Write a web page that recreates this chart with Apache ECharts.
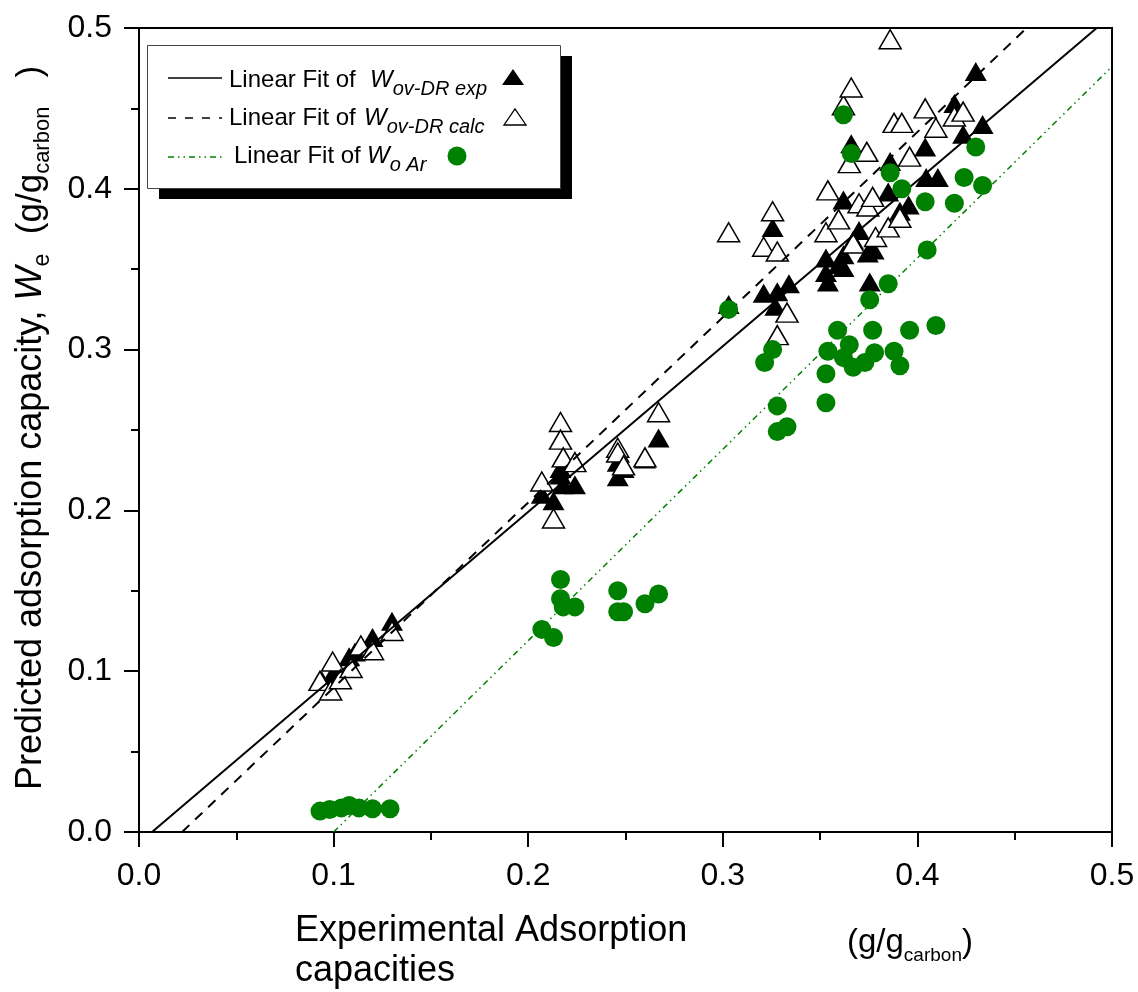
<!DOCTYPE html>
<html>
<head>
<meta charset="utf-8">
<script src="https://cdn.jsdelivr.net/npm/echarts@6/dist/echarts.min.js"></script>
<style>
  html, body { margin: 0; padding: 0; background: #fff; }
  #chart { width: 1138px; height: 992px; }
</style>
</head>
<body>
<div id="chart"></div>
<script>
// ---- data -------------------------------------------------------------
// W ov-DR exp (filled triangles)
const expX = [0.094, 0.100, 0.108, 0.111, 0.120, 0.130,
  0.207, 0.213, 0.2166, 0.2166, 0.218, 0.224, 0.246, 0.246, 0.249, 0.260, 0.267,
  0.303, 0.321, 0.3256, 0.327, 0.328, 0.334, 0.353, 0.353, 0.354, 0.3595, 0.362, 0.362,
  0.362, 0.366, 0.367, 0.370, 0.3745, 0.3755, 0.3775, 0.385, 0.386, 0.391, 0.3955,
  0.404, 0.4045, 0.4105, 0.419, 0.4235, 0.430, 0.4335];
const expY = [0.094, 0.099, 0.109, 0.112, 0.121, 0.131,
  0.210, 0.206, 0.222, 0.226, 0.216, 0.216, 0.230, 0.221, 0.226, 0.232, 0.245,
  0.328, 0.335, 0.376, 0.327, 0.336, 0.341, 0.357, 0.348, 0.342, 0.353, 0.351, 0.359,
  0.393, 0.428, 0.368, 0.374, 0.360, 0.342, 0.362, 0.398, 0.417, 0.386, 0.390,
  0.426, 0.407, 0.407, 0.453, 0.434, 0.473, 0.440];

// W ov-DR calc (open triangles)
const calcX = [0.093, 0.0985, 0.0995, 0.1035, 0.109, 0.114, 0.120, 0.130,
  0.207, 0.213, 0.2166, 0.2166, 0.218, 0.224, 0.246, 0.246, 0.249, 0.260, 0.267,
  0.303, 0.321, 0.3256, 0.328, 0.328, 0.333, 0.353, 0.354, 0.3595, 0.362, 0.365, 0.366,
  0.367, 0.370, 0.374, 0.3745, 0.377, 0.3785, 0.385, 0.386, 0.388, 0.391, 0.392, 0.396,
  0.404, 0.4095, 0.419, 0.4235];
const calcY = [0.094, 0.088, 0.106, 0.095, 0.102, 0.116, 0.113, 0.125,
  0.218, 0.195, 0.255, 0.244, 0.233, 0.230, 0.239, 0.236, 0.228, 0.233, 0.261,
  0.373, 0.364, 0.386, 0.361, 0.309, 0.323, 0.373, 0.399, 0.381, 0.452, 0.416, 0.463,
  0.366, 0.391, 0.423, 0.389, 0.395, 0.370, 0.376, 0.493, 0.441, 0.382, 0.441, 0.420,
  0.450, 0.438, 0.445, 0.448];

// W o Ar (green circles)
const arX = [0.093, 0.098, 0.104, 0.108, 0.113, 0.120, 0.129,
  0.207, 0.213, 0.2166, 0.2166, 0.218, 0.224, 0.246, 0.246, 0.249, 0.260, 0.267,
  0.303, 0.3215, 0.3256, 0.328, 0.328, 0.333, 0.353, 0.353, 0.354, 0.359, 0.362, 0.365,
  0.367, 0.373, 0.378, 0.377, 0.3755, 0.385, 0.388, 0.391, 0.396, 0.4095, 0.405,
  0.362, 0.366, 0.386, 0.392, 0.430, 0.424, 0.4335, 0.404, 0.419];
const arY = [0.013, 0.014, 0.015, 0.0165, 0.015, 0.0145, 0.0145,
  0.126, 0.121, 0.157, 0.145, 0.140, 0.140, 0.150, 0.137, 0.137, 0.142, 0.148,
  0.325, 0.292, 0.300, 0.265, 0.249, 0.252, 0.267, 0.285, 0.299, 0.312, 0.295, 0.303,
  0.289, 0.292, 0.298, 0.312, 0.331, 0.341, 0.299, 0.290, 0.312, 0.315, 0.362,
  0.446, 0.422, 0.410, 0.400, 0.426, 0.407, 0.402, 0.392, 0.391];

// linear fits: [slope, intercept]
const fitExp = [1.03, -0.0069];
const fitCalc = [1.152, -0.0255];
const fitAr = [1.19, -0.119];

const axisTicks = [0.0, 0.1, 0.2, 0.3, 0.4, 0.5];
const legendLabels = ['Linear Fit of', 'Linear Fit of', 'Linear Fit of'];
const legendSubs = ['ov-DR exp', 'ov-DR calc', 'o Ar'];

// ---- helpers ----------------------------------------------------------
const FONT = '"Liberation Sans", Arial, Helvetica, sans-serif';
const GREEN = '#008000';
const zip = (xs, ys) => xs.map((x, i) => [x, ys[i]]);

const axisMin = axisTicks[0];
const axisMax = axisTicks[axisTicks.length - 1];

// segment of y = a*x + b clipped to the plotting box
function fitSegment(fit) {
  const [a, b] = fit;
  const x0 = Math.max(axisMin, (axisMin - b) / a);
  const x1 = Math.min(axisMax, (axisMax - b) / a);
  return [[x0, a * x0 + b], [x1, a * x1 + b]];
}

const mctx = document.createElement('canvas').getContext('2d');
const fontStr = (size, italic) => (italic ? 'italic ' : '') + size + 'px ' + FONT;
function textWidth(t, size, italic) {
  mctx.font = fontStr(size, italic);
  return mctx.measureText(t).width;
}
// distance from the 'middle' line down to the alphabetic baseline
function baselineShift(size, italic) {
  mctx.font = fontStr(size, italic);
  mctx.textBaseline = 'alphabetic';
  const a = mctx.measureText('H').actualBoundingBoxAscent;
  mctx.textBaseline = 'middle';
  const b = mctx.measureText('H').actualBoundingBoxAscent;
  mctx.textBaseline = 'alphabetic';
  return a - b;
}
// a run of text pieces sharing a baseline; each piece: [text, size, italic, dy]
function textRun(runs, x, y, rotation, color) {
  let cx = 0;
  const children = runs.map(([t, size, italic, dy]) => {
    const el = {
      type: 'text', x: cx, y: (dy || 0) - baselineShift(size, italic), silent: true, z: 100,
      style: { text: t, font: fontStr(size, italic), fill: color || '#000', align: 'left', verticalAlign: 'middle' }
    };
    cx += textWidth(t, size, italic);
    return el;
  });
  return { type: 'group', x, y, rotation: rotation || 0, children, z: 100 };
}

// ---- legend -------------------------------------------------------------
const legendRowY = [78, 118, 157];
const legendTextBase = [87, 125, 163];
const legendTextX = [229, 229, 234];
const legendWX = [370, 364, 367];

function legendGraphics() {
  const g = [];
  g.push({ type: 'rect', shape: { x: 159, y: 56, width: 413, height: 143 }, style: { fill: '#000' }, z: 90, silent: true });
  g.push({ type: 'rect', shape: { x: 147.5, y: 45.5, width: 413, height: 143 }, style: { fill: '#fff', stroke: '#444', lineWidth: 1 }, z: 91, silent: true });
  // line samples
  g.push({ type: 'line', shape: { x1: 168, y1: legendRowY[0], x2: 222, y2: legendRowY[0] }, style: { stroke: '#000', lineWidth: 1.5 }, z: 92, silent: true });
  g.push({ type: 'line', shape: { x1: 168, y1: legendRowY[1], x2: 222, y2: legendRowY[1] }, style: { stroke: '#000', lineWidth: 1.5, lineDash: [8, 9] }, z: 92, silent: true });
  g.push({ type: 'line', shape: { x1: 168, y1: legendRowY[2], x2: 222, y2: legendRowY[2] }, style: { stroke: GREEN, lineWidth: 1.5, lineDash: [6, 4, 1.5, 4, 1.5, 4] }, z: 92, silent: true });
  for (let i = 0; i < 3; i++) {
    g.push(textRun([[legendLabels[i], 24, false, 0]], legendTextX[i], legendTextBase[i]));
    g.push(textRun([['W', 24, true, 0], [legendSubs[i], 20, true, 8]], legendWX[i], legendTextBase[i]));
  }
  // markers
  const tri = (cx, cy) => [[cx - 11, cy + 8], [cx + 11, cy + 8], [cx, cy - 8]];
  g.push({ type: 'polygon', shape: { points: tri(513, 77) }, style: { fill: '#000' }, z: 92, silent: true });
  g.push({ type: 'polygon', shape: { points: tri(515, 117) }, style: { fill: '#fff', stroke: '#000', lineWidth: 1.3 }, z: 92, silent: true });
  g.push({ type: 'circle', shape: { cx: 457, cy: 156, r: 9.5 }, style: { fill: GREEN }, z: 92, silent: true });
  return g;
}

// ---- axis titles ----------------------------------------------------------
function titleGraphics() {
  return [
    textRun([['Experimental Adsorption', 36, false, 0]], 295, 941),
    textRun([['capacities', 36, false, 0]], 295, 981),
    textRun([['(g/g', 33, false, 0], ['carbon', 19, false, 9], [')', 33, false, 0]], 847, 952),
    textRun([
      ['Predicted adsorption capacity, ', 36, false, 0],
      ['W', 36, true, 0],
      ['e', 23, false, 8],
      ['  (g/g', 35, false, 0],
      ['carbon', 22, false, 8],
      ['   )', 35, false, 0]
    ], 41, 790, Math.PI / 2)
  ];
}

// ---- chart ----------------------------------------------------------------
const chart = echarts.init(document.getElementById('chart'), null, { renderer: 'canvas' });

const axisCommon = {
  type: 'value', min: axisMin, max: axisMax, interval: 0.1,
  axisLine: { show: true, onZero: false, lineStyle: { color: '#000', width: 2 } },
  axisTick: { show: true, inside: false, length: 15, lineStyle: { color: '#000', width: 2 } },
  minorTick: { show: true, splitNumber: 2, length: 8, lineStyle: { color: '#000', width: 2 } },
  splitLine: { show: false },
  minorSplitLine: { show: false },
  axisLabel: {
    fontFamily: FONT, fontSize: 32, color: '#000',
    formatter: v => v.toFixed(1)
  }
};

chart.setOption({
  animation: false,
  backgroundColor: '#fff',
  grid: {
    left: 139, right: 26, top: 28, bottom: 160,
    containLabel: false, outerBoundsMode: 'none',
    show: true, borderColor: '#000', borderWidth: 2, backgroundColor: 'transparent'
  },
  xAxis: Object.assign({}, axisCommon, {
    axisLabel: Object.assign({}, axisCommon.axisLabel, { margin: 28 })
  }),
  yAxis: Object.assign({}, axisCommon, {
    axisLabel: Object.assign({}, axisCommon.axisLabel, { margin: 27 })
  }),
  series: [
    {
      name: 'W ov-DR exp', type: 'scatter', data: zip(expX, expY),
      symbol: 'triangle', symbolSize: [22, 19],
      itemStyle: { color: '#000', opacity: 1 }, z: 2, silent: true
    },
    {
      name: 'W ov-DR calc', type: 'scatter', data: zip(calcX, calcY),
      symbol: 'triangle', symbolSize: [22, 19],
      itemStyle: { color: '#fff', borderColor: '#000', borderWidth: 1.5, opacity: 1 }, z: 3, silent: true
    },
    {
      name: 'fit exp', type: 'line', data: fitSegment(fitExp), symbol: 'none',
      lineStyle: { color: '#000', width: 2 }, z: 4, silent: true
    },
    {
      name: 'fit calc', type: 'line', data: fitSegment(fitCalc), symbol: 'none',
      lineStyle: { color: '#000', width: 2, type: [10, 8] }, z: 4, silent: true
    },
    {
      name: 'fit Ar', type: 'line', data: fitSegment(fitAr), symbol: 'none',
      lineStyle: { color: GREEN, width: 1.5, type: [6, 4, 1.5, 4, 1.5, 4] }, z: 4, silent: true
    },
    {
      name: 'W o Ar', type: 'scatter', data: zip(arX, arY),
      symbol: 'circle', symbolSize: 19,
      itemStyle: { color: GREEN, opacity: 1 }, z: 5, silent: true
    }
  ],
  graphic: legendGraphics().concat(titleGraphics())
});
</script>
</body>
</html>
